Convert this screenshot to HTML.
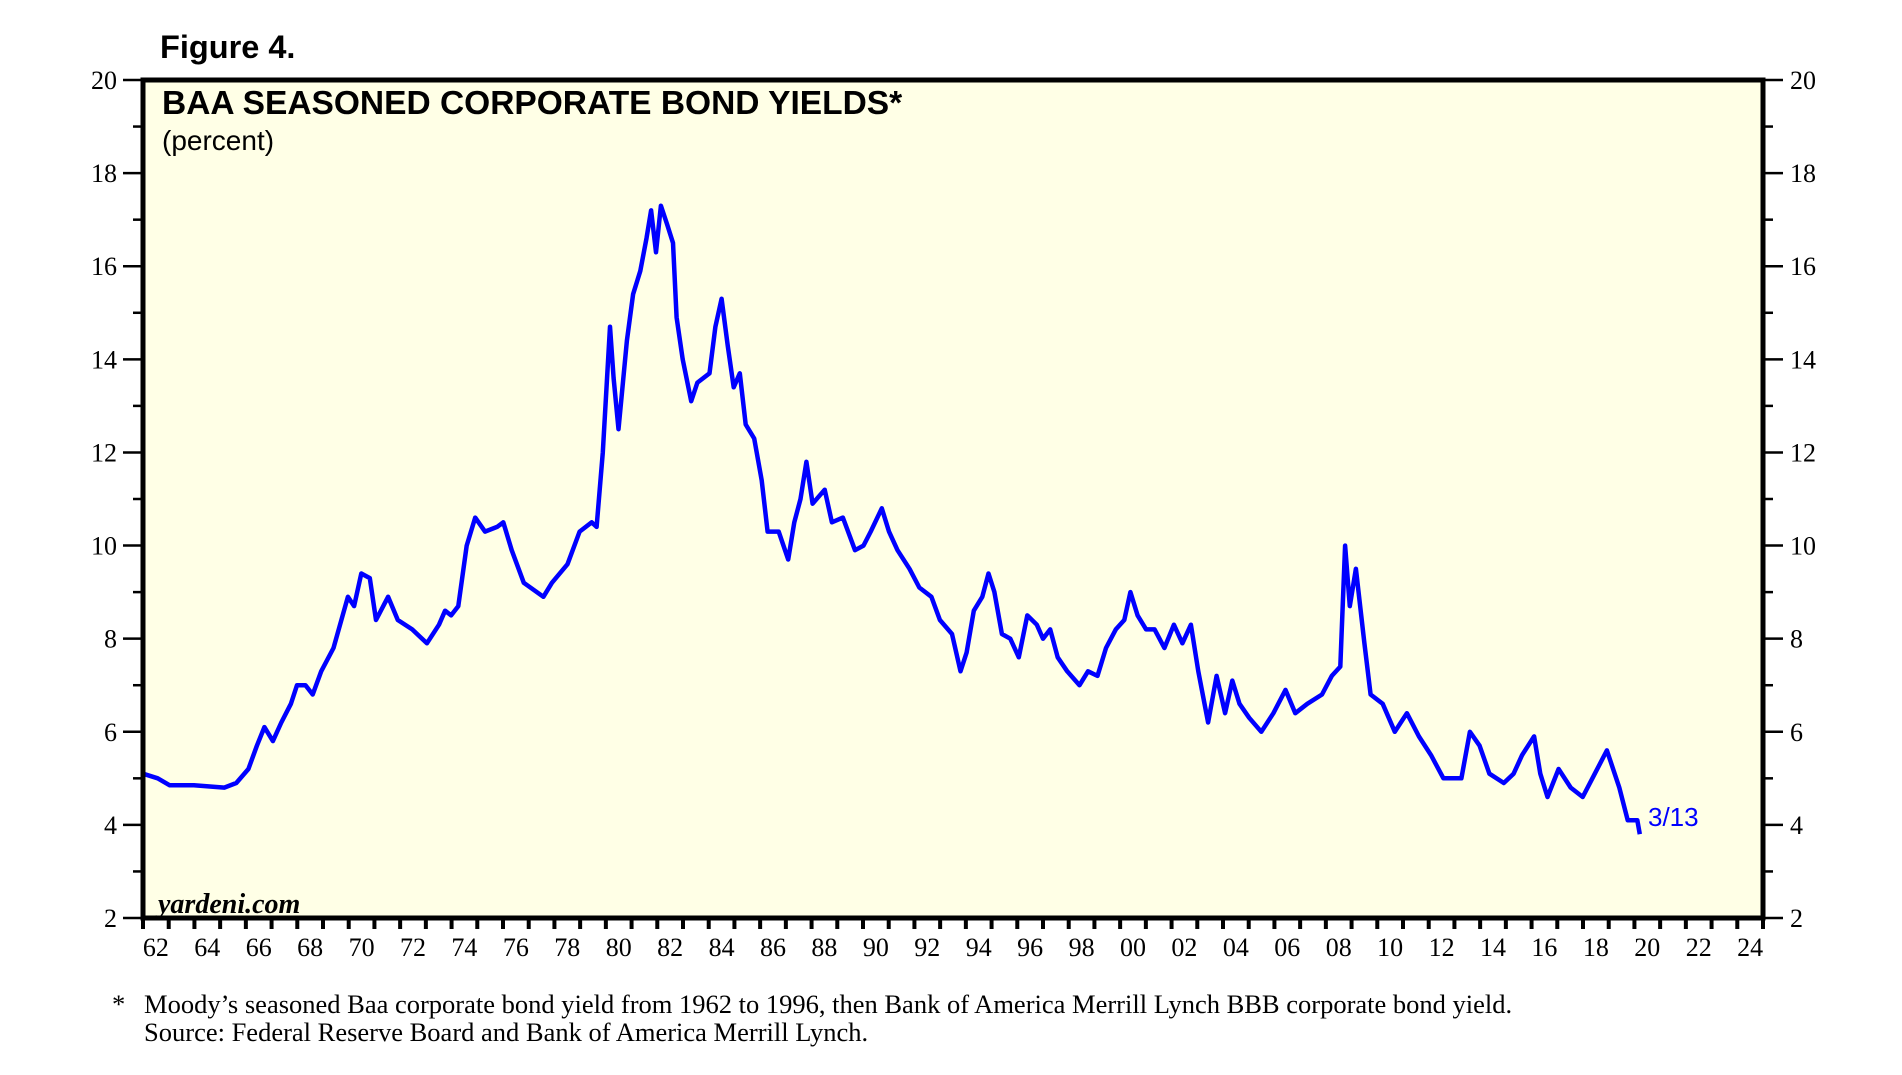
<!DOCTYPE html>
<html><head><meta charset="utf-8"><style>
html,body{margin:0;padding:0;background:#fff;width:1902px;height:1075px;overflow:hidden}
svg text{font-family:"Liberation Serif",serif}
</style></head><body>
<svg width="1902" height="1075" xmlns="http://www.w3.org/2000/svg">
<text x="160" y="58" font-weight="bold" font-size="32.5" style="font-family:'Liberation Sans',sans-serif">Figure 4.</text>
<rect x="143" y="80" width="1620" height="838" fill="#ffffe6"/>
<g id="axes"></g>
<path id="line" fill="none" stroke="#0000ff" stroke-width="4.5" stroke-linejoin="round"/>
<rect x="143" y="80" width="1620" height="838" fill="none" stroke="#000" stroke-width="5"/>
<text x="162" y="114" font-weight="bold" font-size="33.5" style="font-family:'Liberation Sans',sans-serif">BAA SEASONED CORPORATE BOND YIELDS*</text>
<text x="162" y="150" font-size="28" style="font-family:'Liberation Sans',sans-serif">(percent)</text>
<text x="158" y="913" font-weight="bold" font-style="italic" font-size="28">yardeni.com</text>
<text x="1648" y="826" fill="#0000ff" font-size="26" style="font-family:'Liberation Sans',sans-serif">3/13</text>
<text x="112" y="1013" font-size="26.5">*</text>
<text x="144" y="1013" font-size="26.5">Moody’s seasoned Baa corporate bond yield from 1962 to 1996, then Bank of America Merrill Lynch BBB corporate bond yield.</text>
<text x="144" y="1041" font-size="26.5">Source: Federal Reserve Board and Bank of America Merrill Lynch.</text>
</svg>
<script>
const years=[1962.00,1962.57,1963.04,1963.98,1965.16,1965.63,1966.10,1966.43,1966.72,1967.05,1967.38,1967.75,1967.99,1968.32,1968.60,1968.93,1969.41,1969.97,1970.21,1970.49,1970.82,1971.06,1971.53,1971.91,1972.47,1973.04,1973.51,1973.75,1973.98,1974.26,1974.59,1974.92,1975.30,1975.77,1976.01,1976.34,1976.81,1977.57,1977.90,1978.51,1978.98,1979.45,1979.64,1979.88,1980.16,1980.30,1980.49,1980.82,1981.06,1981.34,1981.58,1981.76,1981.95,1982.14,1982.38,1982.61,1982.75,1982.99,1983.32,1983.56,1984.03,1984.26,1984.50,1984.74,1984.97,1985.21,1985.44,1985.77,1986.06,1986.29,1986.72,1987.09,1987.33,1987.57,1987.80,1988.04,1988.51,1988.79,1989.22,1989.69,1990.02,1990.30,1990.73,1991.01,1991.34,1991.81,1992.19,1992.66,1992.99,1993.46,1993.79,1994.03,1994.31,1994.64,1994.88,1995.11,1995.40,1995.73,1996.06,1996.39,1996.76,1997.00,1997.28,1997.57,1997.94,1998.42,1998.75,1999.12,1999.45,1999.83,2000.16,2000.40,2000.68,2001.01,2001.34,2001.72,2002.09,2002.42,2002.75,2003.04,2003.42,2003.75,2004.08,2004.36,2004.64,2005.02,2005.49,2005.96,2006.43,2006.81,2007.28,2007.85,2008.23,2008.56,2008.75,2008.93,2009.17,2009.50,2009.74,2010.21,2010.68,2011.15,2011.62,2012.09,2012.57,2013.27,2013.60,2013.98,2014.36,2014.92,2015.30,2015.63,2016.10,2016.34,2016.62,2017.05,2017.52,2017.99,2018.46,2018.93,2019.41,2019.74,2020.11,2020.21];
const yields=[5.1,5.0,4.85,4.85,4.8,4.9,5.2,5.7,6.1,5.8,6.2,6.6,7.0,7.0,6.8,7.3,7.8,8.9,8.7,9.4,9.3,8.4,8.9,8.4,8.2,7.9,8.3,8.6,8.5,8.7,10.0,10.6,10.3,10.4,10.5,9.9,9.2,8.9,9.2,9.6,10.3,10.5,10.4,12.0,14.7,13.6,12.5,14.4,15.4,15.9,16.6,17.2,16.3,17.3,16.9,16.5,14.9,14.0,13.1,13.5,13.7,14.7,15.3,14.3,13.4,13.7,12.6,12.3,11.4,10.3,10.3,9.7,10.5,11.0,11.8,10.9,11.2,10.5,10.6,9.9,10.0,10.3,10.8,10.3,9.9,9.5,9.1,8.9,8.4,8.1,7.3,7.7,8.6,8.9,9.4,9.0,8.1,8.0,7.6,8.5,8.3,8.0,8.2,7.6,7.3,7.0,7.3,7.2,7.8,8.2,8.4,9.0,8.5,8.2,8.2,7.8,8.3,7.9,8.3,7.3,6.2,7.2,6.4,7.1,6.6,6.3,6.0,6.4,6.9,6.4,6.6,6.8,7.2,7.4,10.0,8.7,9.5,7.9,6.8,6.6,6.0,6.4,5.9,5.5,5.0,5.0,6.0,5.7,5.1,4.9,5.1,5.5,5.9,5.1,4.6,5.2,4.8,4.6,5.1,5.6,4.8,4.1,4.1,3.8];
const yTicks=[2,4,6,8,10,12,14,16,18,20];
const xLabels=["62","64","66","68","70","72","74","76","78","80","82","84","86","88","90","92","94","96","98","00","02","04","06","08","10","12","14","16","18","20","22","24"];
const X0=143,X1=1763,Y0=918,Y1=80;
const xs=t=>X0+(t-1962)/(2025-1962)*(X1-X0);
const ys=v=>Y0-(v-2)/(20-2)*(Y0-Y1);
const NS="http://www.w3.org/2000/svg";
const ax=document.getElementById('axes');
function mk(tag,attrs){const e=document.createElementNS(NS,tag);for(const k in attrs)e.setAttribute(k,attrs[k]);ax.appendChild(e);return e;}
for(let v=2;v<=20;v++){
  const y=ys(v),maj=v%2===0;
  const l=mk('line',{x1:maj?123:133,x2:143,y1:y,y2:y,stroke:'#000','stroke-width':2.5});
  
  
  const r=mk('line',{x1:1763,x2:maj?1783:1773,y1:y,y2:y,stroke:'#000','stroke-width':2.5});
  
  
}
yTicks.forEach(v=>{
  const t=mk('text',{x:117,y:ys(v)+9,'text-anchor':'end','font-size':26});
  t.textContent=v;
  
  
  const t2=mk('text',{x:1790,y:ys(v)+9,'font-size':26});
  t2.textContent=v;
  
  
});
for(let yr=1962;yr<=2025;yr++){
  const x=xs(yr);
  const l=mk('line',{x1:x,x2:x,y1:918,y2:929,stroke:'#000','stroke-width':4});
  
  
}
xLabels.forEach((s,i)=>{
  const t=mk('text',{x:xs(1962.5+2*i),y:956,'text-anchor':'middle','font-size':26});
  t.textContent=s;
  
  
});
document.getElementById('line').setAttribute('d',years.map((t,i)=>(i?'L':'M')+xs(t).toFixed(1)+','+ys(yields[i]).toFixed(1)).join(''));
</script>
</body></html>
